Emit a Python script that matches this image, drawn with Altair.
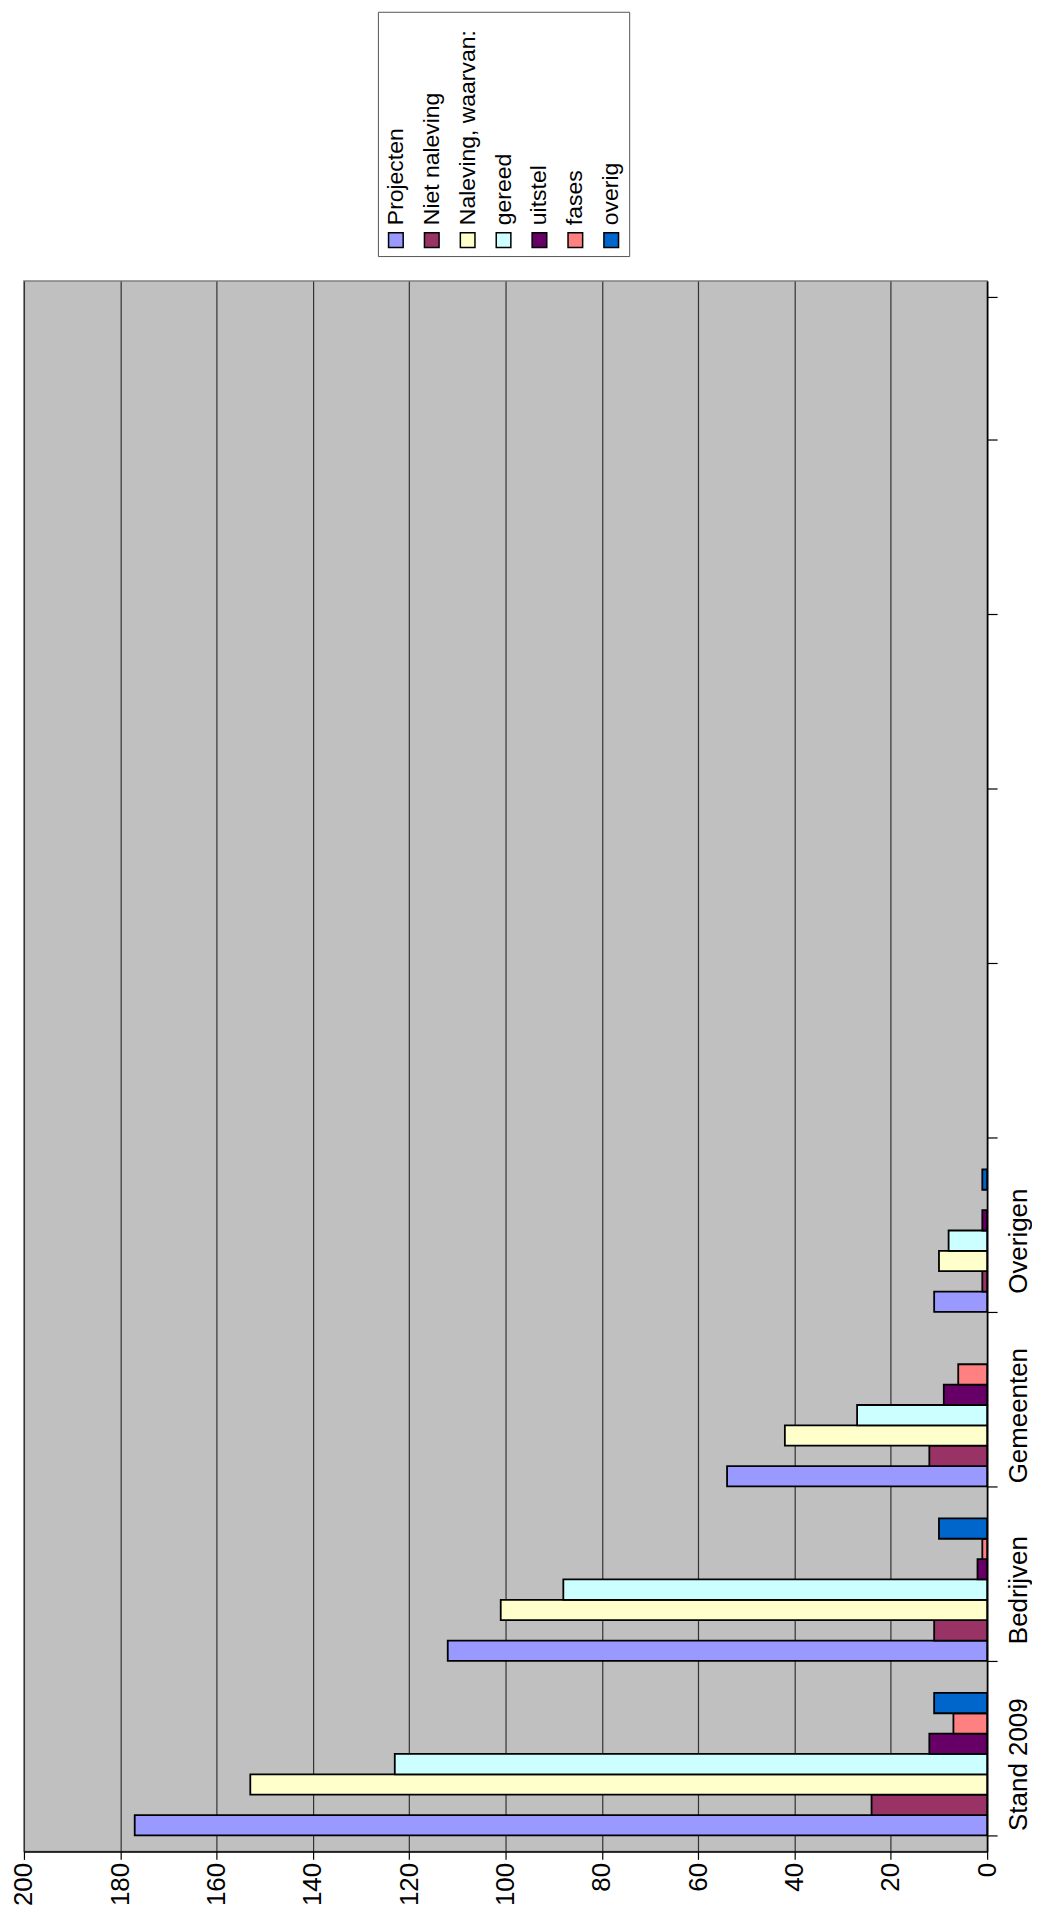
import altair as alt
import pandas as pd

FONT = "Liberation Sans"

categories = ["Stand 2009", "Bedrijven", "Gemeenten", "Overigen"]
empty_slots = ["leeg1", "leeg2", "leeg3", "leeg4", "leeg5"]

series = ["Projecten", "Niet naleving", "Naleving, waarvan:", "gereed", "uitstel", "fases", "overig"]
colors = ["#9999FF", "#993366", "#FFFFCC", "#CCFFFF", "#660066", "#FF8080", "#0066CC"]

projecten = [177, 112, 54, 11]
niet_naleving = [24, 11, 12, 1]
naleving = [153, 101, 42, 10]
gereed = [123, 88, 27, 8]
uitstel = [12, 2, 9, 1]
fases = [7, 1, 6, 0]
overig = [11, 10, 0, 1]

value_ticks = [0, 20, 40, 60, 80, 100, 120, 140, 160, 180, 200]

series_values = [projecten, niet_naleving, naleving, gereed, uitstel, fases, overig]
rows = []
for name, vals in zip(series, series_values):
    for cat, v in zip(categories, vals):
        rows.append({"categorie": cat, "reeks": name, "waarde": v})
df = pd.DataFrame(rows)

y_domain = list(reversed(categories + empty_slots))
offset_domain = list(reversed(series))
color_scale = alt.Scale(domain=series, range=colors)

bars = alt.Chart(df).transform_filter("datum.waarde > 0").mark_bar(
    stroke="black", strokeWidth=1.8
).encode(
    x=alt.X(
        "waarde:Q",
        scale=alt.Scale(domain=[0, 200], reverse=True, nice=False),
        axis=alt.Axis(
            values=value_ticks, title=None, orient="bottom",
            labelAngle=270, labelAlign="right", labelBaseline="middle",
            labelFontSize=26, labelFont=FONT, labelColor="black", labelPadding=3,
            labelFlush=False, labelOverlap=False,
            tickSize=8, tickColor="black", tickWidth=1.2,
            domainColor="black", domainWidth=1.5,
            gridColor="#333333", gridWidth=1.2, gridOpacity=1,
        ),
    ),
    y=alt.Y(
        "categorie:N",
        scale=alt.Scale(domain=y_domain, paddingInner=0.183, paddingOuter=0.0915),
        axis=alt.Axis(
            orient="right", title=None,
            labelAngle=270, labelAlign="center", labelBaseline="top",
            labelFontSize=26, labelFont=FONT, labelColor="black", labelPadding=8,
            tickSize=10, tickColor="black", tickWidth=1.2, tickBand="extent",
            domainColor="black", domainWidth=1.5, grid=False,
            labelExpr="indexof(datum.label, 'leeg') == 0 ? '' : datum.label",
        ),
    ),
    yOffset=alt.YOffset(
        "reeks:N", scale=alt.Scale(domain=offset_domain, paddingInner=0, paddingOuter=0)
    ),
    color=alt.Color("reeks:N", scale=color_scale, legend=None),
).properties(
    width=966, height=1575,
    view=alt.ViewBackground(fill="#C0C0C0", stroke="#808080", strokeWidth=1.5),
)

leg_df = pd.DataFrame({"reeks": series})
leg_x = alt.X("reeks:N", scale=alt.Scale(domain=series, paddingInner=0, paddingOuter=0), axis=None)

leg_sym = alt.Chart(leg_df).mark_square(
    size=215, stroke="black", strokeWidth=1.5, opacity=1
).encode(
    x=leg_x, y=alt.value(229),
    color=alt.Color("reeks:N", scale=color_scale, legend=None),
)
leg_txt = alt.Chart(leg_df).mark_text(
    angle=270, align="left", baseline="middle", fontSize=23, font=FONT, color="black"
).encode(x=leg_x, y=alt.value(214), text="reeks:N")

legend = alt.layer(leg_sym, leg_txt).properties(
    width=252, height=245,
    view=alt.ViewBackground(fill="white", stroke="#555555", strokeWidth=1),
)

spacer = alt.Chart(leg_df).mark_text(text="", baseline="middle").encode(
    x=alt.value(100), y=alt.value(120)
).properties(width=354, height=245, view=alt.ViewBackground(stroke=None, fill=None))

top = alt.hconcat(spacer, legend, spacing=0)

chart = alt.vconcat(top, bars, spacing=23).properties(
    padding={"left": 2, "top": 0, "right": 0, "bottom": 0},
    background="white",
).configure_view(strokeWidth=1.5)

chart.save("out.html", embed_options={"renderer": "svg", "actions": False})
